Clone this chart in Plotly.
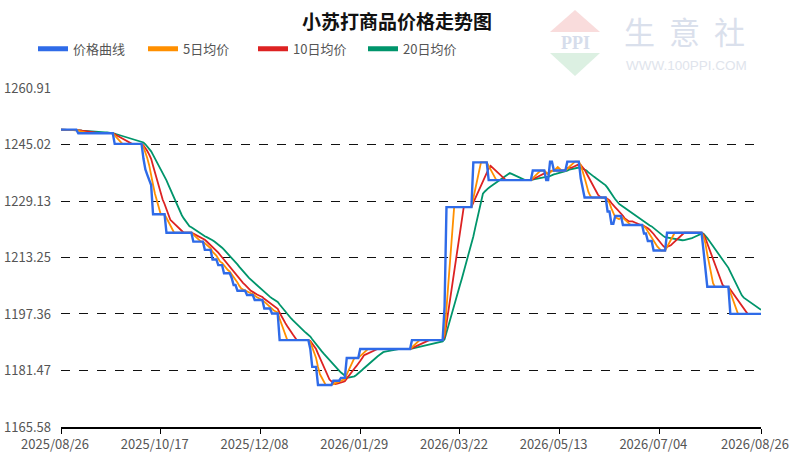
import pandas as pd
import plotly.graph_objects as go

# price change points (the price holds its value until the next date)
change_dates = ['2025-08-26', '2025-09-04', '2025-09-23', '2025-10-08', '2025-10-09',
                '2025-10-10', '2025-10-11', '2025-10-12', '2025-10-13', '2025-10-20',
                '2025-11-03', '2025-11-09', '2025-11-13', '2025-11-16', '2025-11-19',
                '2025-11-23', '2025-11-24', '2025-11-26', '2025-12-01', '2025-12-05',
                '2025-12-10', '2025-12-14', '2025-12-18', '2026-01-03', '2026-01-04',
                '2026-01-07', '2026-01-15', '2026-01-19', '2026-01-22', '2026-01-29',
                '2026-02-25', '2026-03-14', '2026-03-15', '2026-03-29', '2026-04-06',
                '2026-04-29', '2026-05-06', '2026-05-08', '2026-05-10', '2026-05-17',
                '2026-05-24', '2026-05-25', '2026-05-26', '2026-06-07', '2026-06-09',
                '2026-06-11', '2026-06-15', '2026-06-26', '2026-06-28', '2026-07-01',
                '2026-07-08', '2026-07-27', '2026-07-28', '2026-07-29', '2026-08-10']
change_values = [1249.2, 1248.2, 1245.2, 1241.0, 1238.0,
                 1236.5, 1235.0, 1233.6, 1225.4, 1220.2,
                 1217.7, 1215.4, 1212.7, 1211.1, 1208.8,
                 1207.5, 1205.5, 1203.9, 1202.7, 1201.3,
                 1198.9, 1197.5, 1190.0, 1187.5, 1182.5,
                 1177.4, 1178.6, 1179.4, 1185.0, 1187.5,
                 1190.0, 1199.4, 1227.4, 1240.0, 1235.0,
                 1237.7, 1235.0, 1240.2, 1237.7, 1240.2,
                 1235.5, 1232.5, 1230.1, 1226.2, 1222.7,
                 1224.9, 1222.4, 1220.0, 1217.9, 1215.2,
                 1220.2, 1215.3, 1210.2, 1205.0, 1197.4]
end_date = '2026-08-26'

y_ticks = [1165.58, 1181.47, 1197.36, 1213.25, 1229.13, 1245.02, 1260.91]
x_ticks = ['2025-08-26', '2025-10-17', '2025-12-08', '2026-01-29',
           '2026-03-22', '2026-05-13', '2026-07-04', '2026-08-26']

days = pd.date_range(change_dates[0], end_date, freq='D')
price = pd.Series(change_values, index=pd.to_datetime(change_dates)).reindex(days).ffill()
ma5 = price.rolling(5, min_periods=1).mean()
ma10 = price.rolling(10, min_periods=1).mean()
ma20 = price.rolling(20, min_periods=1).mean()

font = 'Noto Sans CJK SC'
W, H = 790, 458
# plot area in pixels
L, R, T, B = 61, 761, 88, 427

# pixel -> paper fraction
def px_x(x):
    return (x - L) / (R - L)

def px_y(y):
    return (B - y) / (B - T)

fig = go.Figure()

series = [
    ('价格曲线', price, '#2f6be8', 2.4),
    ('5日均价', ma5, '#ff8f00', 1.8),
    ('10日均价', ma10, '#dd2222', 1.8),
    ('20日均价', ma20, '#00956b', 1.8),
]
# draw order: MAs below, price line on top
for name, s, color, w in series[1:][::-1] + [series[0]]:
    fig.add_trace(go.Scatter(x=s.index, y=s.values, mode='lines', name=name,
                             line=dict(color=color, width=w), showlegend=False))
# legend entries with thick swatches
for name, s, color, w in series:
    fig.add_trace(go.Scatter(x=[None], y=[None], mode='lines', name=name,
                             line=dict(color=color, width=5)))

fig.update_layout(
    width=W, height=H,
    margin=dict(l=L, r=W - R, t=T, b=H - B),
    paper_bgcolor='white', plot_bgcolor='white',
    font=dict(family=font, size=13, color='#555'),
    title=dict(text='<b>小苏打商品价格走势图</b>', x=397 / W, xanchor='center',
               y=1 - 22 / H, yanchor='middle',
               font=dict(family=font, size=19, color='#111')),
    legend=dict(orientation='h', x=px_x(33), xanchor='left', y=px_y(48.7), yanchor='middle',
                entrywidth=65, entrywidthmode='pixels',
                font=dict(family=font, size=13, color='#555'),
                bgcolor='rgba(0,0,0,0)'),
    showlegend=True,
)

fig.update_xaxes(
    type='date', range=[change_dates[0], end_date], automargin=False,
    tickvals=x_ticks, ticktext=[d.replace('-', '/') for d in x_ticks],
    showgrid=False, showline=True, linecolor='#000', linewidth=1.5,
    ticks='outside', ticklen=5, tickcolor='#000', ticklabelshift=-6,
    ticklabeloverflow='allow',
    tickfont=dict(family=font, size=13, color='#555'), zeroline=False,
)
fig.update_yaxes(
    range=[y_ticks[0], y_ticks[-1]], tickvals=y_ticks, automargin=False,
    ticktext=['%.2f' % v for v in y_ticks],
    showgrid=True, gridcolor='#111', griddash='dash', gridwidth=1,
    showline=False, zeroline=False, ticks='', ticklabelstandoff=9,
    tickfont=dict(family=font, size=13, color='#555'),
)

# watermark logo
for (x0, y0, x1, y1, x2, y2), color in [((575, 10, 600, 32, 550, 32), '#f9dcdc'),
                                        ((550, 53, 600, 53, 575, 76), '#dcf0e2')]:
    path = 'M %f %f L %f %f L %f %f Z' % (px_x(x0), px_y(y0), px_x(x1), px_y(y1),
                                          px_x(x2), px_y(y2))
    fig.add_shape(type='path', xref='x domain', yref='y domain', path=path,
                  fillcolor=color, line_width=0, layer='below')

def mark(text, x, y, family, size, color):
    fig.add_annotation(text=text, x=px_x(x), y=px_y(y), xref='paper', yref='paper',
                       xanchor='center', yanchor='middle', showarrow=False,
                       font=dict(family=family, size=size, color=color))

mark('<b>PPI</b>', 575, 42.5, 'Liberation Serif', 18, '#d6ddeb')
for cx, ch in [(639, '生'), (684, '意'), (729, '社')]:
    mark(ch, cx, 31, font, 31, '#dae0ec')
mark('WWW.100PPI.COM', 686, 66, 'Liberation Sans', 13.5, '#e0e4ec')

# the page body has a default 8px margin; drop it so the chart sits at 0,0
fig.write_html('out.html', config={'displayModeBar': False},
               post_script="document.body.style.margin='0';")
